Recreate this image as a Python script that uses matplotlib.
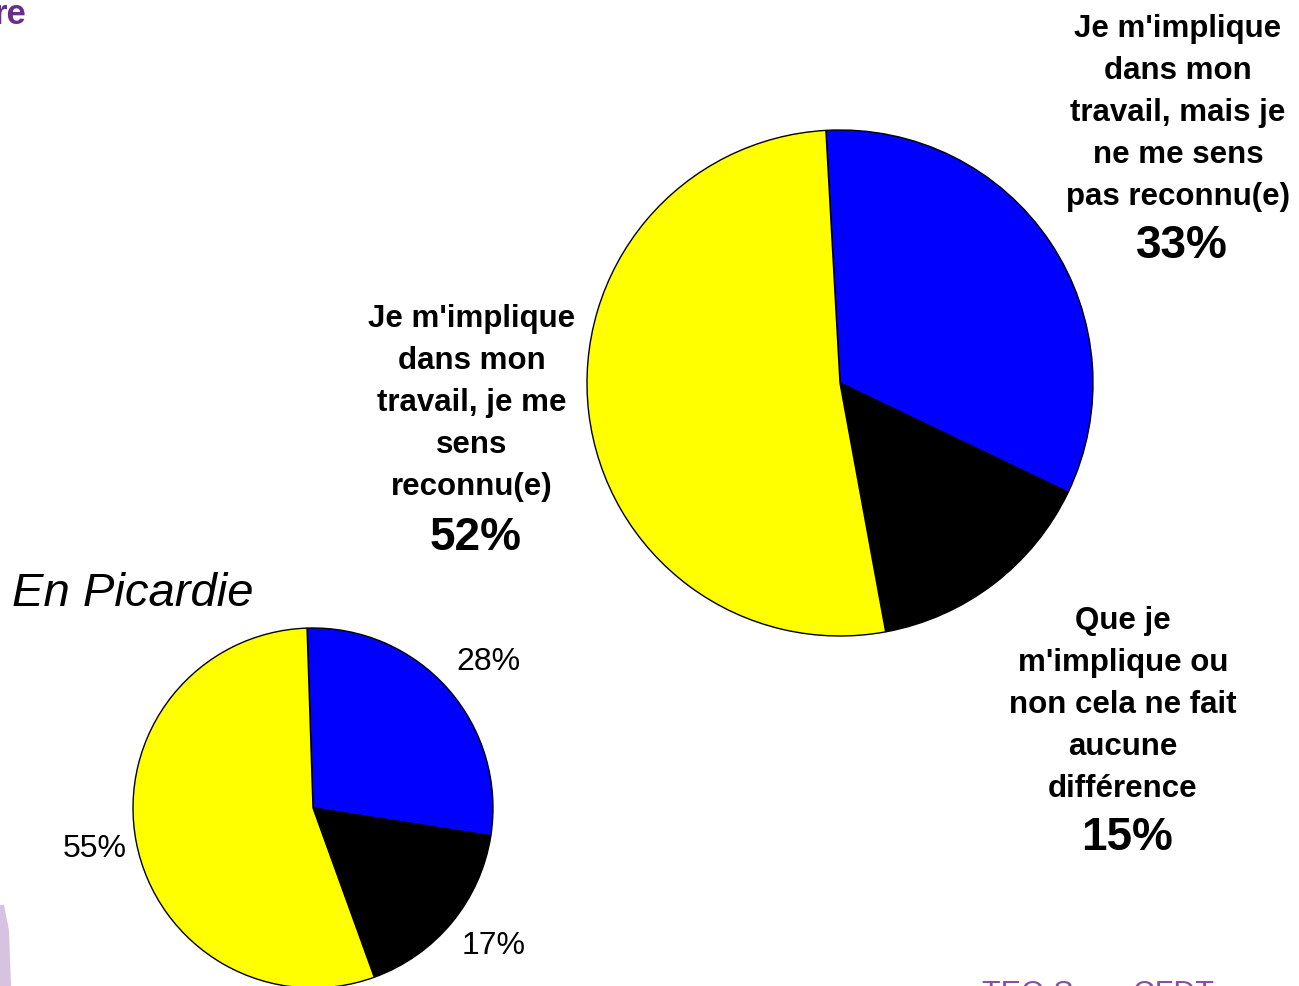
import matplotlib.pyplot as plt
from matplotlib.patches import Polygon

# -----------------------------
# Data
# -----------------------------
categories = [
    "Je m'implique\ndans mon\ntravail, mais je\nne me sens\npas reconnu(e)",
    "Que je\nm'implique ou\nnon cela ne fait\naucune\ndifférence",
    "Je m'implique\ndans mon\ntravail, je me\nsens\nreconnu(e)",
]
national_values = [33, 15, 52]
picardie_values = [28, 17, 55]
colors = ["#0000ff", "#000000", "#ffff00"]

plt.rcParams['font.family'] = ['Liberation Sans', 'DejaVu Sans']

W, H = 1299, 986
fig = plt.figure(figsize=(W / 100, H / 100), dpi=100)
ax = fig.add_axes([0, 0, 1, 1])

def py(y):
    # pixel row -> data y
    return H - y

# big pie
ax.pie(national_values, colors=colors, startangle=93.2, counterclock=False,
       center=(840, py(383)), radius=253,
       wedgeprops=dict(edgecolor='black', linewidth=1))

# small pie (Picardie)
ax.pie(picardie_values, colors=colors, startangle=91.9, counterclock=False,
       center=(313, py(808)), radius=180,
       wedgeprops=dict(edgecolor='black', linewidth=1))
ax.set_xlim(0, W)
ax.set_ylim(0, H)
ax.set_aspect('equal')
ax.axis('off')

# big pie labels
big_label_pos = [(1178, 14), (1123, 606), (472, 304)]
big_pct_pos = [(1182, 246), (1127, 838), (476, 538)]
for cat, v, (lx, ly), (px, pyy) in zip(categories, national_values, big_label_pos, big_pct_pos):
    ax.text(lx, py(ly), cat, ha='center', va='top', fontsize=22.5,
            fontweight='bold', linespacing=1.52)
    ax.text(px, py(pyy), f"{v}%", ha='center', va='center', fontsize=33,
            fontweight='bold')

# small pie labels
small_pct_pos = [(488, 662), (494, 946), (95, 849)]
for v, (px, pyy) in zip(picardie_values, small_pct_pos):
    ax.text(px, py(pyy), f"{v}%", ha='center', va='center', fontsize=23)

ax.text(12, py(594), "En Picardie", ha='left', va='center', fontsize=34,
        fontstyle='italic')

# decorations from the slide
ax.text(-6, py(14), "re", ha='left', va='center', fontsize=25,
        fontweight='bold', color='#6b2d8c')
ax.text(982, py(995), "TEO Sgen CFDT", ha='left', va='center', fontsize=22,
        color='#8a4fa3')
ax.add_patch(Polygon([(0, py(986)), (0, py(905)), (4, py(905)), (9, py(930)),
                      (11, py(986))], closed=True, facecolor='#d6c3e0',
                     edgecolor='none'))

fig.savefig("out.png", dpi=100)
